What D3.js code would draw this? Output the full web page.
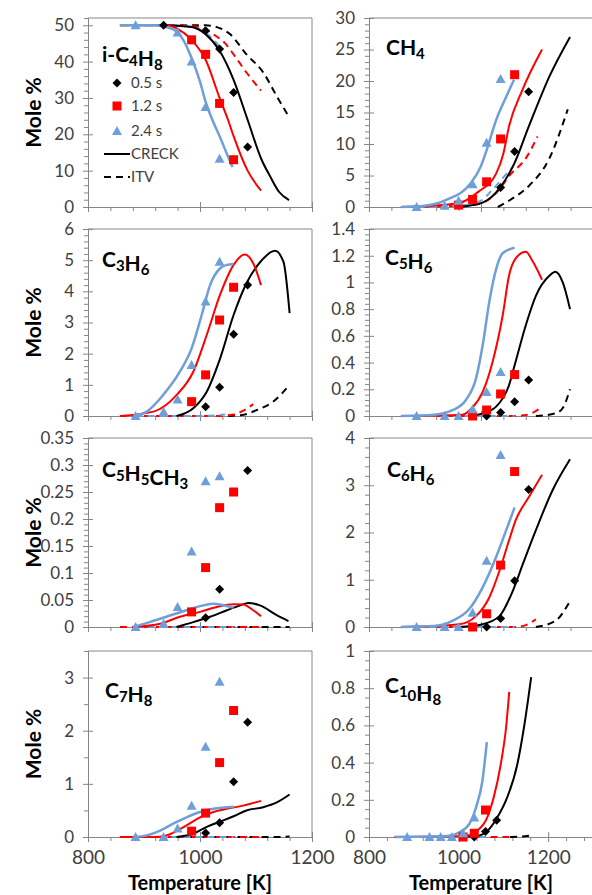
<!DOCTYPE html>
<html>
<head>
<meta charset="utf-8">
<script src="https://cdn.jsdelivr.net/npm/d3@7"></script>
<style>
  body { margin: 0; background: #fff; }
  text { font-family: Lato, "Open Sans", sans-serif; }
</style>
</head>
<body>
<div id="chart"></div>
<script>
// experimental temperatures [K]
const temps = [885, 935, 960, 985, 1010, 1035, 1060, 1085];
const residence = ["0.5 s", "1.2 s", "2.4 s"];
const models = ["CRECK", "ITV"];
const species = ["i-C4H8", "CH4", "C3H6", "C5H6", "C5H5CH3", "C6H6", "C7H8", "C10H8"];
const yMax = [52, 30, 6, 1.4, 0.35, 4, 3.5, 1];
const yMajor = [10, 5, 1, 0.2, 0.05, 1, 1, 0.2];
const yMinor = [2, 1, 0.2, 0.04, 0.01, 0.2, 0.5, 0.05];
const xMax = [1200, 1200, 1200, 1200, 1200, 1200, 1200, 1300];
const xTicks = [800, 1000, 1200];
const xMinor = 40;

// measured mole % : one row per residence time (0.5, 1.2, 2.4 s), aligned to temps
const iC4H8_exp = [
  [null, 50, null, null, 48.5, 43.5, 31.5, 16.5],
  [null, null, null, 46, 42, 28.5, 13, null],
  [50, null, 48, 40, 27.5, 13.3, null, null]
];
const CH4_exp = [
  [null, null, null, null, null, 3.1, 8.8, 18.3],
  [null, null, 0.3, 1.2, 4.0, 10.8, 21, null],
  [0, 0.2, 1.0, 3.6, 10.2, 20.3, null, null]
];
const C3H6_exp = [
  [null, null, null, null, 0.3, 0.92, 2.62, 4.2],
  [null, null, null, 0.46, 1.32, 3.08, 4.13, null],
  [0, 0.14, 0.53, 1.64, 3.67, 4.95, null, null]
];
const C5H6_exp = [
  [null, null, null, null, 0, 0.027, 0.107, 0.27],
  [null, null, null, 0, 0.045, 0.165, 0.31, null],
  [0, 0, 0, 0.05, 0.18, 0.33, null, null]
];
const C5H5CH3_exp = [
  [null, null, null, null, 0.017, 0.07, null, 0.29],
  [null, null, null, 0.028, 0.11, 0.221, 0.25, null],
  [0, 0.006, 0.037, 0.14, 0.27, 0.279, null, null]
];
const C6H6_exp = [
  [null, null, null, null, 0, 0.18, 0.98, 2.91],
  [null, null, null, 0, 0.28, 1.31, 3.29, null],
  [0, 0, 0, 0.3, 1.4, 3.64, null, null]
];
const C7H8_exp = [
  [null, null, null, null, 0.075, 0.27, 1.04, 2.16],
  [null, null, null, 0.11, 0.45, 1.4, 2.38, null],
  [0, 0, 0.16, 0.59, 1.7, 2.92, null, null]
];
const C10H8_exp = [
  [null, null, null, null, null, 0, 0.03, 0.09],
  [null, null, null, null, 0, 0.02, 0.145, null],
  [0, 0, 0, 0, 0.02, 0.105, null, null]
];

// CRECK model curves [T, mole %] for 0.5, 1.2, 2.4 s
const iC4H8_creck = [
  [[935, 50], [985, 49.5], [1010, 47.5], [1035, 43], [1060, 35], [1085, 24], [1110, 13], [1125, 8.5], [1141, 4.2], [1159, 1.9]],
  [[857, 50], [940, 50], [960, 49], [985, 46], [1010, 40.5], [1035, 30], [1050, 24], [1060, 19.5], [1085, 10], [1109, 4.5]],
  [[857, 50], [920, 50], [950, 49], [970, 46], [985, 41], [1000, 34.5], [1010, 29], [1022, 24], [1035, 19.5], [1047, 15], [1058, 11]]
];
const CH4_creck = [
  [[960, 0], [1003, 0.7], [1035, 3.2], [1060, 7], [1085, 12.7], [1122, 20.7], [1159, 27]],
  [[857, 0], [960, 0.6], [995, 2.4], [1027, 5.3], [1040, 8.5], [1050, 12.8], [1074, 18.6], [1109, 25]],
  [[857, 0], [900, 0.2], [940, 1.2], [980, 3.6], [1000, 6.5], [1010, 9], [1027, 13.8], [1045, 17.5], [1059, 20.2]]
];
const C3H6_creck = [
  [[958, 0], [988, 0.25], [1012, 0.78], [1036, 1.85], [1060, 3.24], [1083, 4.26], [1108, 4.95], [1134, 5.3], [1149, 4.95], [1160, 3.3]],
  [[857, 0], [917, 0.14], [958, 0.67], [988, 1.42], [1012, 2.6], [1036, 3.9], [1060, 4.85], [1080, 5.18], [1095, 4.9], [1109, 4.2]],
  [[881, 0], [905, 0.14], [934, 0.67], [964, 1.42], [985, 2.17], [1003, 3.24], [1018, 4.2], [1036, 4.74], [1048, 4.85], [1060, 4.88]]
];
const C5H6_creck = [
  [[978, 0], [1003, 0.02], [1027, 0.07], [1050, 0.23], [1062, 0.41], [1080, 0.68], [1098, 0.9], [1122, 1.05], [1133, 1.08], [1146, 1.0], [1159, 0.8]],
  [[857, 0], [966, 0.01], [984, 0.06], [1003, 0.18], [1021, 0.41], [1039, 0.76], [1050, 1.05], [1062, 1.18], [1080, 1.23], [1092, 1.16], [1109, 1.02]],
  [[857, 0], [917, 0.01], [950, 0.045], [973, 0.12], [991, 0.28], [1003, 0.53], [1015, 0.86], [1027, 1.1], [1039, 1.22], [1060, 1.26]]
];
const C5H5CH3_creck = [
  [[958, 0], [988, 0.009], [1018, 0.019], [1048, 0.031], [1072, 0.04], [1086, 0.0446], [1107, 0.04], [1137, 0.022], [1158, 0.011]],
  [[881, 0], [929, 0.006], [964, 0.019], [1000, 0.028], [1030, 0.037], [1060, 0.042], [1077, 0.0415], [1095, 0.031], [1109, 0.02]],
  [[881, 0], [910, 0.009], [940, 0.019], [976, 0.031], [1006, 0.04], [1024, 0.043], [1042, 0.04], [1060, 0.036]]
];
const C6H6_creck = [
  [[961, 0], [1003, 0.06], [1033, 0.23], [1057, 0.77], [1075, 1.34], [1098, 2.05], [1128, 2.9], [1159, 3.55]],
  [[857, 0], [961, 0.06], [991, 0.23], [1015, 0.63], [1033, 1.19], [1050, 1.83], [1062, 2.26], [1086, 2.76], [1109, 3.22]],
  [[857, 0], [917, 0.02], [949, 0.13], [979, 0.38], [1003, 0.84], [1027, 1.48], [1045, 2.05], [1060, 2.53]]
];
const C7H8_creck = [
  [[958, 0], [988, 0.06], [1012, 0.19], [1036, 0.29], [1060, 0.39], [1083, 0.5], [1113, 0.56], [1137, 0.65], [1160, 0.8]],
  [[857, 0], [917, 0], [940, 0.03], [976, 0.22], [1000, 0.37], [1024, 0.47], [1048, 0.53], [1077, 0.59], [1109, 0.68]],
  [[881, 0], [905, 0.03], [929, 0.12], [952, 0.25], [976, 0.37], [1000, 0.47], [1024, 0.53], [1060, 0.57]]
];
const C10H8_creck = [
  [[1001, 0], [1039, 0.005], [1063, 0.03], [1085, 0.1], [1108, 0.21], [1131, 0.39], [1146, 0.59], [1162, 0.86]],
  [[857, 0], [1012, 0.005], [1039, 0.03], [1063, 0.1], [1078, 0.21], [1094, 0.39], [1106, 0.59], [1113, 0.78]],
  [[857, 0], [974, 0.005], [1001, 0.024], [1024, 0.07], [1039, 0.16], [1053, 0.3], [1063, 0.51]]
];

// ITV model curves [T, mole %] for 0.5, 1.2, 2.4 s
const iC4H8_itv = [
  [[964, 50], [1010, 50], [1030, 49.5], [1054, 47.5], [1083, 42], [1113, 37], [1137, 30.5], [1158, 25]],
  [[857, 50], [960, 50], [1000, 49.5], [1024, 47.5], [1045, 45], [1060, 42], [1083, 37], [1109, 32]],
  [[885, 50], [960, 50], [985, 49.5], [1010, 48], [1030, 45], [1040, 43]]
];
const CH4_itv = [
  [[1030, 0], [1057, 1.4], [1085, 3.3], [1122, 7.7], [1155, 15.5]],
  [[857, 0], [985, 0.3], [1027, 2.2], [1050, 4.9], [1082, 8], [1101, 11.2]],
  [[885, 0], [960, 0.2], [1000, 1.0], [1020, 2.7], [1040, 4.7], [1058, 6.5]]
];
const C3H6_itv = [
  [[1050, 0], [1080, 0.05], [1100, 0.18], [1130, 0.45], [1160, 1.0]],
  [[857, 0], [1030, 0], [1060, 0.05], [1080, 0.2], [1095, 0.38]],
  [[885, 0], [1000, 0], [1035, 0.03], [1045, 0.05]]
];
const C5H6_itv = [
  [[1098, 0], [1133, 0.02], [1146, 0.06], [1159, 0.2]],
  [[857, 0], [1060, 0], [1080, 0.007], [1110, 0.07]],
  [[885, 0], [1060, 0]]
];
const C5H5CH3_itv = [
  [[960, 0], [1160, 0]],
  [[857, 0], [1109, 0]],
  [[885, 0], [1060, 0]]
];
const C6H6_itv = [
  [[1098, 0], [1133, 0.13], [1159, 0.55]],
  [[857, 0], [1060, 0], [1080, 0.04], [1098, 0.16]],
  [[885, 0], [1060, 0]]
];
const C7H8_itv = [
  [[960, 0], [1140, 0], [1160, 0.01]],
  [[857, 0], [1109, 0]],
  [[885, 0], [1060, 0]]
];
const C10H8_itv = [
  [[1115, 0], [1153, 0.005], [1162, 0.015]],
  [[857, 0], [1113, 0]],
  [[885, 0], [1060, 0]]
];

const expData = [iC4H8_exp, CH4_exp, C3H6_exp, C5H6_exp, C5H5CH3_exp, C6H6_exp, C7H8_exp, C10H8_exp];
const creckData = [iC4H8_creck, CH4_creck, C3H6_creck, C5H6_creck, C5H5CH3_creck, C6H6_creck, C7H8_creck, C10H8_creck];
const itvData = [iC4H8_itv, CH4_itv, C3H6_itv, C5H6_itv, C5H5CH3_itv, C6H6_itv, C7H8_itv, C10H8_itv];

// layout
const W = 592, H = 895;
const colX = [[88, 312], [369, 593]];
const rowY = [[207, 18], [416, 229], [627, 438], [837, 651]];
const labelPos = [[102, 62], [386, 55], [102, 267], [385, 265], [102, 477], [387, 477], [105, 698], [385, 693]];
const colors = ["#000000", "#ff0000", "#6f9fd8"];
const axisColor = "#868686";

const svg = d3.select("#chart").append("svg")
  .attr("width", W).attr("height", H)
  .style("background", "#fff");

function marker(sel, k, cx, cy) {
  if (k == 0) {
    sel.append("path").attr("d", `M${cx},${cy - 4.5}L${cx + 4.5},${cy}L${cx},${cy + 4.5}L${cx - 4.5},${cy}Z`)
      .attr("fill", colors[0]);
  } else if (k == 1) {
    sel.append("rect").attr("x", cx - 4.5).attr("y", cy - 4.5).attr("width", 9).attr("height", 9)
      .attr("fill", colors[1]);
  } else {
    sel.append("path").attr("d", `M${cx},${cy - 5}L${cx + 5},${cy + 4}L${cx - 5},${cy + 4}Z`)
      .attr("fill", colors[2]);
  }
}

function rangeStep(max, step) {
  return d3.range(0, Math.round(max / step) + 1).map(i => +(i * step).toFixed(4));
}

species.forEach(function(name, i) {
  const c = i % 2, r = Math.floor(i / 2);
  const x = d3.scaleLinear().domain([800, xMax[i]]).range(colX[c]);
  const y = d3.scaleLinear().domain([0, yMax[i]]).range(rowY[r]);
  const g = svg.append("g");
  const x0 = colX[c][0], x1 = colX[c][1], y0 = rowY[r][0], y1 = rowY[r][1];

  // plot frame (top and right)
  g.append("path")
    .attr("d", `M${x0},${y1}H${x1}V${y0}`)
    .attr("fill", "none").attr("stroke", axisColor);

  const majY = rangeStep(yMax[i], yMajor[i]).filter(v => v <= yMax[i] + 1e-9);
  const minY = rangeStep(yMax[i], yMinor[i]).filter(v => !majY.some(m => Math.abs(m - v) < 1e-9));
  const majX = xTicks;
  const minX = d3.range(800, xMax[i] + 1, xMinor).filter(v => !majX.includes(v));

  // y axis
  g.append("g").attr("transform", `translate(${x0},0)`)
    .call(d3.axisLeft(y).tickValues(minY).tickSize(4).tickSizeOuter(0).tickFormat(""));
  g.append("g").attr("transform", `translate(${x0},0)`)
    .call(d3.axisRight(y).tickValues(majY).tickSize(5).tickSizeOuter(0).tickFormat(""));
  g.append("g").attr("class", "ylab").attr("transform", `translate(${x0},0)`)
    .call(d3.axisLeft(y).tickValues(majY).tickSize(5).tickSizeOuter(0).tickPadding(9)
      .tickFormat(d => String(+d.toFixed(3))));

  // x axis
  g.append("g").attr("transform", `translate(0,${y0})`)
    .call(d3.axisBottom(x).tickValues(minX).tickSize(4).tickSizeOuter(0).tickFormat(""));
  g.append("g").attr("transform", `translate(0,${y0})`)
    .call(d3.axisTop(x).tickValues(majX).tickSize(5).tickSizeOuter(0).tickFormat(""));
  g.append("g").attr("class", "xlab").attr("transform", `translate(0,${y0})`)
    .call(d3.axisBottom(x).tickValues(majX).tickSize(5).tickSizeOuter(0).tickPadding(9)
      .tickFormat(r == 3 ? d => d : ""));

  g.selectAll(".domain, .tick line").attr("stroke", axisColor);
  g.selectAll(".ylab text").attr("font-size", 17).attr("fill", "#404040")
    .style("font-family", "Lato, sans-serif");
  g.selectAll(".xlab text").attr("font-size", 19).attr("fill", "#404040")
    .style("font-family", "Lato, sans-serif");

  const line = d3.line().x(d => x(d[0])).y(d => y(d[1])).curve(d3.curveMonotoneX);

  // model curves
  itvData[i].forEach(function(s, k) {
    g.append("path").datum(s).attr("d", line)
      .attr("fill", "none").attr("stroke", colors[k]).attr("stroke-width", 2)
      .attr("stroke-dasharray", "7,5");
  });
  creckData[i].forEach(function(s, k) {
    g.append("path").datum(s).attr("d", line)
      .attr("fill", "none").attr("stroke", colors[k]).attr("stroke-width", k == 2 ? 2.5 : 2);
  });

  // experiments
  expData[i].forEach(function(vals, k) {
    vals.forEach(function(v, j) {
      if (v != null) marker(g, k, x(temps[j]), y(v));
    });
  });

  // species label with subscripts
  const lab = g.append("text")
    .attr("x", labelPos[i][0]).attr("y", labelPos[i][1])
    .attr("font-size", 21).attr("font-weight", "bold").attr("fill", "#000");
  name.split("").forEach(function(ch) {
    if (/\d/.test(ch)) {
      lab.append("tspan").attr("font-size", 15).attr("dy", 4).text(ch);
      lab.append("tspan").attr("dy", -4).text("");
    } else {
      lab.append("tspan").text(ch);
    }
  });

  if (c == 0) {
    svg.append("text")
      .attr("transform", `translate(36,${(y0 + y1) / 2}) rotate(-90)`)
      .attr("text-anchor", "middle").attr("dominant-baseline", "middle")
      .attr("font-size", 21).attr("font-weight", "bold")
      .text("Mole %");
  }
  if (r == 3) {
    svg.append("text")
      .attr("x", (x0 + x1) / 2).attr("y", 890)
      .attr("text-anchor", "middle")
      .attr("font-size", 20).attr("font-weight", "bold")
      .text("Temperature [K]");
  }
});

// legend inside the i-C4H8 panel
const leg = svg.append("g");
const legY = [83, 106, 131];
residence.forEach(function(t, k) {
  marker(leg, k, 117, legY[k]);
  leg.append("text").attr("x", 131).attr("y", legY[k]).attr("dy", "0.35em")
    .attr("font-size", 15).attr("fill", "#404040").text(t);
});
models.forEach(function(m, k) {
  const ly = 154 + k * 23;
  leg.append("line").attr("x1", 104).attr("x2", 130).attr("y1", ly).attr("y2", ly)
    .attr("stroke", "#000").attr("stroke-width", 2)
    .attr("stroke-dasharray", k == 1 ? "7,5" : null);
  leg.append("text").attr("x", 131).attr("y", ly).attr("dy", "0.35em")
    .attr("font-size", 15).attr("fill", "#404040").text(m);
});
</script>
</body>
</html>
